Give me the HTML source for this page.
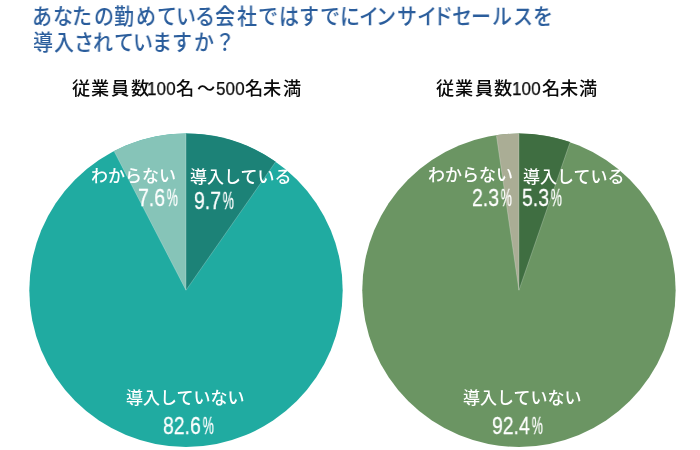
<!DOCTYPE html>
<html><head><meta charset="utf-8"><style>
html,body{margin:0;padding:0;background:#fff;}
body{width:700px;height:450px;position:relative;overflow:hidden;font-family:"Liberation Sans", "Noto Sans CJK JP", sans-serif;}
.t{position:absolute;white-space:nowrap;line-height:1;transform-origin:0 0;will-change:transform;}
svg{position:absolute;left:0;top:0;}
.title{color:#2a5d9c;}
.sub{color:#0a0a0a;}
.w,.num{color:#fff;}
.num{font-family:"Liberation Sans",sans-serif;-webkit-text-stroke:0.3px #fff;}
.pc{display:inline-block;transform-origin:0 0;margin-left:2.2px;}
.dg{font-family:"Liberation Sans",sans-serif;-webkit-text-stroke:0.25px #0a0a0a;}
</style></head><body>
<svg width="700" height="450" viewBox="0 0 700 450">
<circle cx="186" cy="290.2" r="156.7" fill="#20aba1"/>
<path d="M186.00 290.20L186.00 133.50A156.7 156.7 0 0 1 275.70 161.71Z" fill="#1c8277"/>
<path d="M186.00 290.20L113.98 151.03A156.7 156.7 0 0 1 186.00 133.50Z" fill="#86c4b8"/>
<path d="M186.00 290.20L186.00 134.00M186.00 290.20L275.41 162.12M186.00 290.20L114.21 151.47" stroke="#fff" stroke-opacity="0.3" stroke-width="0.8" fill="none"/>
<circle cx="518.95" cy="290.2" r="156.7" fill="#6b9563"/>
<path d="M518.95 290.20L518.95 133.50A156.7 156.7 0 0 1 570.17 142.11Z" fill="#3f6e41"/>
<path d="M518.95 290.20L496.38 135.13A156.7 156.7 0 0 1 518.95 133.50Z" fill="#aaad95"/>
<path d="M518.95 290.20L518.95 134.00M518.95 290.20L570.01 142.58M518.95 290.20L496.46 135.63" stroke="#fff" stroke-opacity="0.3" stroke-width="0.8" fill="none"/>
</svg>
<div class="t title" id="t1_0" style="left:32.00px;top:5.50px;font-size:22px;transform:scale(0.9090,1.0000);font-weight:500;">あ</div>
<div class="t title" id="t1_1" style="left:52.50px;top:5.50px;font-size:22px;transform:scale(0.9090,1.0000);font-weight:500;">な</div>
<div class="t title" id="t1_2" style="left:72.00px;top:5.50px;font-size:22px;transform:scale(0.9090,1.0000);font-weight:500;">た</div>
<div class="t title" id="t1_3" style="left:93.60px;top:5.50px;font-size:22px;transform:scale(0.9090,1.0000);font-weight:500;">の</div>
<div class="t title" id="t1_4" style="left:113.60px;top:5.50px;font-size:22px;transform:scale(0.9090,1.0000);font-weight:500;">勤</div>
<div class="t title" id="t1_5" style="left:136.10px;top:5.50px;font-size:22px;transform:scale(0.9090,1.0000);font-weight:500;">め</div>
<div class="t title" id="t1_6" style="left:156.80px;top:5.50px;font-size:22px;transform:scale(0.9090,1.0000);font-weight:500;">て</div>
<div class="t title" id="t1_7" style="left:175.80px;top:5.50px;font-size:22px;transform:scale(0.9090,1.0000);font-weight:500;">い</div>
<div class="t title" id="t1_8" style="left:195.30px;top:5.50px;font-size:22px;transform:scale(0.9090,1.0000);font-weight:500;">る</div>
<div class="t title" id="t1_9" style="left:215.30px;top:5.50px;font-size:22px;transform:scale(0.9090,1.0000);font-weight:500;">会</div>
<div class="t title" id="t1_10" style="left:236.90px;top:5.50px;font-size:22px;transform:scale(0.9090,1.0000);font-weight:500;">社</div>
<div class="t title" id="t1_11" style="left:258.30px;top:5.50px;font-size:22px;transform:scale(0.9090,1.0000);font-weight:500;">で</div>
<div class="t title" id="t1_12" style="left:279.40px;top:5.50px;font-size:22px;transform:scale(0.9090,1.0000);font-weight:500;">は</div>
<div class="t title" id="t1_13" style="left:298.90px;top:5.50px;font-size:22px;transform:scale(0.9090,1.0000);font-weight:500;">す</div>
<div class="t title" id="t1_14" style="left:320.20px;top:5.50px;font-size:22px;transform:scale(0.9090,1.0000);font-weight:500;">で</div>
<div class="t title" id="t1_15" style="left:340.30px;top:5.50px;font-size:22px;transform:scale(0.9090,1.0000);font-weight:500;">に</div>
<div class="t title" id="t1_16" style="left:359.20px;top:5.50px;font-size:22px;transform:scale(0.9090,1.0000);font-weight:500;">イ</div>
<div class="t title" id="t1_17" style="left:376.00px;top:5.50px;font-size:22px;transform:scale(0.9090,1.0000);font-weight:500;">ン</div>
<div class="t title" id="t1_18" style="left:396.90px;top:5.50px;font-size:22px;transform:scale(0.9090,1.0000);font-weight:500;">サ</div>
<div class="t title" id="t1_19" style="left:417.20px;top:5.50px;font-size:22px;transform:scale(0.9090,1.0000);font-weight:500;">イ</div>
<div class="t title" id="t1_20" style="left:432.60px;top:5.50px;font-size:22px;transform:scale(0.9090,1.0000);font-weight:500;">ド</div>
<div class="t title" id="t1_21" style="left:451.80px;top:5.50px;font-size:22px;transform:scale(0.9090,1.0000);font-weight:500;">セ</div>
<div class="t title" id="t1_22" style="left:471.00px;top:5.50px;font-size:22px;transform:scale(0.9090,1.0000);font-weight:500;">ー</div>
<div class="t title" id="t1_23" style="left:492.30px;top:5.50px;font-size:22px;transform:scale(0.9090,1.0000);font-weight:500;">ル</div>
<div class="t title" id="t1_24" style="left:512.70px;top:5.50px;font-size:22px;transform:scale(0.9090,1.0000);font-weight:500;">ス</div>
<div class="t title" id="t1_25" style="left:532.50px;top:5.50px;font-size:22px;transform:scale(0.9090,1.0000);font-weight:500;">を</div>
<div class="t title" id="t2_0" style="left:32.70px;top:31.50px;font-size:22px;transform:scale(0.9090,1.0000);font-weight:500;">導</div>
<div class="t title" id="t2_1" style="left:54.30px;top:31.50px;font-size:22px;transform:scale(0.9090,1.0000);font-weight:500;">入</div>
<div class="t title" id="t2_2" style="left:74.10px;top:31.50px;font-size:22px;transform:scale(0.9090,1.0000);font-weight:500;">さ</div>
<div class="t title" id="t2_3" style="left:92.90px;top:31.50px;font-size:22px;transform:scale(0.9090,1.0000);font-weight:500;">れ</div>
<div class="t title" id="t2_4" style="left:113.60px;top:31.50px;font-size:22px;transform:scale(0.9090,1.0000);font-weight:500;">て</div>
<div class="t title" id="t2_5" style="left:133.30px;top:31.50px;font-size:22px;transform:scale(0.9090,1.0000);font-weight:500;">い</div>
<div class="t title" id="t2_6" style="left:152.10px;top:31.50px;font-size:22px;transform:scale(0.9090,1.0000);font-weight:500;">ま</div>
<div class="t title" id="t2_7" style="left:172.30px;top:31.50px;font-size:22px;transform:scale(0.9090,1.0000);font-weight:500;">す</div>
<div class="t title" id="t2_8" style="left:194.30px;top:31.50px;font-size:22px;transform:scale(0.9090,1.0000);font-weight:500;">か</div>
<div class="t title" id="t2_9" style="left:215.00px;top:31.50px;font-size:22px;transform:scale(0.9090,1.0000);font-weight:500;">？</div>
<div class="t sub" id="s1_0" style="left:71.65px;top:79.50px;font-size:18.2px;font-weight:500;">従</div>
<div class="t sub" id="s1_1" style="left:91.15px;top:79.50px;font-size:18.2px;font-weight:500;">業</div>
<div class="t sub" id="s1_2" style="left:111.40px;top:79.50px;font-size:18.2px;font-weight:500;">員</div>
<div class="t sub" id="s1_3" style="left:130.80px;top:79.50px;font-size:18.2px;font-weight:500;">数</div>
<div class="t sub dg" id="s1_4" style="left:146.70px;top:78.75px;font-size:19px;transform:scale(0.9000,1.0000);">100</div>
<div class="t sub" id="s1_5" style="left:176.25px;top:79.50px;font-size:18.2px;font-weight:500;">名</div>
<div class="t sub" id="s1_6" style="left:196.95px;top:79.50px;font-size:18.2px;font-weight:500;">～</div>
<div class="t sub dg" id="s1_7" style="left:215.55px;top:78.75px;font-size:19px;transform:scale(0.9000,1.0000);">500</div>
<div class="t sub" id="s1_8" style="left:245.20px;top:79.50px;font-size:18.2px;font-weight:500;">名</div>
<div class="t sub" id="s1_9" style="left:263.40px;top:79.50px;font-size:18.2px;font-weight:500;">未</div>
<div class="t sub" id="s1_10" style="left:283.15px;top:79.50px;font-size:18.2px;font-weight:500;">満</div>
<div class="t sub" id="s2_0" style="left:435.85px;top:79.50px;font-size:18.2px;font-weight:500;">従</div>
<div class="t sub" id="s2_1" style="left:455.10px;top:79.50px;font-size:18.2px;font-weight:500;">業</div>
<div class="t sub" id="s2_2" style="left:475.05px;top:79.50px;font-size:18.2px;font-weight:500;">員</div>
<div class="t sub" id="s2_3" style="left:494.35px;top:79.50px;font-size:18.2px;font-weight:500;">数</div>
<div class="t sub dg" id="s2_4" style="left:512.30px;top:78.75px;font-size:19px;transform:scale(0.9000,1.0000);">100</div>
<div class="t sub" id="s2_5" style="left:541.85px;top:79.50px;font-size:18.2px;font-weight:500;">名</div>
<div class="t sub" id="s2_6" style="left:560.20px;top:79.50px;font-size:18.2px;font-weight:500;">未</div>
<div class="t sub" id="s2_7" style="left:579.20px;top:79.50px;font-size:18.2px;font-weight:500;">満</div>
<div class="t w" id="L_dounyu" style="left:190.20px;top:169.00px;font-size:17px;font-weight:500;">導入している</div>
<div class="t num" id="L_97" style="left:193.60px;top:189.90px;font-size:23px;transform:scale(0.8450,1.0000);">9.7<span class="pc" style="transform:scaleX(0.64)">%</span></div>
<div class="t w" id="L_wakara" style="left:90.60px;top:167.50px;font-size:17px;font-weight:500;">わからない</div>
<div class="t num" id="L_76" style="left:137.80px;top:187.10px;font-size:23px;transform:scale(0.8450,1.0000);">7.6<span class="pc" style="transform:scaleX(0.64)">%</span></div>
<div class="t w" id="L_nai" style="left:126.00px;top:390.00px;font-size:17px;font-weight:500;">導入していない</div>
<div class="t num" id="L_826" style="left:163.00px;top:415.00px;font-size:23px;transform:scale(0.8450,1.0000);">82.6<span class="pc" style="transform:scaleX(0.64)">%</span></div>
<div class="t w" id="R_wakara" style="left:427.80px;top:167.20px;font-size:17px;font-weight:500;">わからない</div>
<div class="t num" id="R_23" style="left:471.60px;top:186.90px;font-size:23px;transform:scale(0.8450,1.0000);">2.3<span class="pc" style="transform:scaleX(0.64)">%</span></div>
<div class="t w" id="R_dounyu" style="left:522.60px;top:168.60px;font-size:17px;font-weight:500;">導入している</div>
<div class="t num" id="R_53" style="left:522.40px;top:186.90px;font-size:23px;transform:scale(0.8450,1.0000);">5.3<span class="pc" style="transform:scaleX(0.64)">%</span></div>
<div class="t w" id="R_nai" style="left:463.00px;top:390.00px;font-size:17px;font-weight:500;">導入していない</div>
<div class="t num" id="R_924" style="left:492.00px;top:415.00px;font-size:23px;transform:scale(0.8450,1.0000);">92.4<span class="pc" style="transform:scaleX(0.64)">%</span></div>
</body></html>
